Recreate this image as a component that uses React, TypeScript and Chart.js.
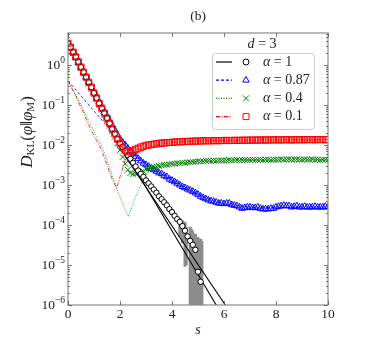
import React, { useEffect, useRef } from "react";
import { Chart, registerables } from "chart.js";

Chart.register(...registerables);

// ---------- data ----------
const S = [
  0, 0.1, 0.2, 0.3, 0.4, 0.5, 0.6, 0.7, 0.8, 0.9,
  1, 1.1, 1.2, 1.3, 1.4, 1.5, 1.6, 1.7, 1.8, 1.9,
  2, 2.1, 2.2, 2.3, 2.4, 2.5, 2.6, 2.7, 2.8, 2.9,
  3, 3.1, 3.2, 3.3, 3.4, 3.5, 3.6, 3.7, 3.8, 3.9,
  4, 4.1, 4.2, 4.3, 4.4, 4.5, 4.6, 4.7, 4.8, 4.9,
  5, 5.1, 5.2, 5.3, 5.4, 5.5, 5.6, 5.7, 5.8, 5.9,
  6, 6.1, 6.2, 6.3, 6.4, 6.5, 6.6, 6.7, 6.8, 6.9,
  7, 7.1, 7.2, 7.3, 7.4, 7.5, 7.6, 7.7, 7.8, 7.9,
  8, 8.1, 8.2, 8.3, 8.4, 8.5, 8.6, 8.7, 8.8, 8.9,
  9, 9.1, 9.2, 9.3, 9.4, 9.5, 9.6, 9.7, 9.8, 9.9,
  10,
];

// alpha = 0.1 (red squares)
const RED_SQ = [
  3.5, 2.8, 2.1, 1.6, 1.2, 0.89, 0.66, 0.5, 0.37, 0.28,
  0.2, 0.15, 0.11, 0.083, 0.063, 0.047, 0.035, 0.025, 0.019, 0.014,
  0.011, 0.0085, 0.0072, 0.0068, 0.0068, 0.0072, 0.0078, 0.0083, 0.0089, 0.0093,
  0.0098, 0.01, 0.0102, 0.0105, 0.0107, 0.011, 0.0112, 0.0112, 0.0115, 0.0115,
  0.0117, 0.0118, 0.012, 0.012, 0.012, 0.0123, 0.0122, 0.0124, 0.0125, 0.0125,
  0.0126, 0.0126, 0.0127, 0.0127, 0.0128, 0.0127, 0.0128, 0.0129, 0.0128, 0.0129,
  0.013, 0.013, 0.0129, 0.013, 0.0131, 0.013, 0.0131, 0.0132, 0.0131, 0.0132,
  0.0132, 0.0133, 0.0132, 0.0133, 0.0134, 0.0133, 0.0134, 0.0133, 0.0134, 0.0135,
  0.0134, 0.0135, 0.0134, 0.0135, 0.0136, 0.0135, 0.0134, 0.0135, 0.0136, 0.0135,
  0.0136, 0.0135, 0.0136, 0.0137, 0.0136, 0.0135, 0.0136, 0.0137, 0.0136, 0.0135,
  0.0136,
];

// alpha = 0.87 (blue triangles)
const BLUE_TRI = [
  3.4, 2.7, 2.0, 1.55, 1.15, 0.87, 0.65, 0.49, 0.37, 0.28,
  0.21, 0.16, 0.12, 0.09, 0.068, 0.052, 0.04, 0.031, 0.024, 0.018,
  0.014, 0.0117, 0.01, 0.0083, 0.0071, 0.006, 0.0052, 0.0046, 0.004, 0.0035,
  0.0032, 0.0029, 0.0026, 0.0024, 0.0022, 0.002, 0.0019, 0.0017, 0.0016, 0.0014,
  0.0013, 0.0012, 0.0011, 0.001, 0.00091, 0.00085, 0.00079, 0.00074, 0.00069, 0.00063,
  0.00058, 0.00052, 0.00048, 0.00045, 0.00042, 0.0004, 0.00039, 0.00037, 0.00035, 0.00035,
  0.00034, 0.00035, 0.00035, 0.00032, 0.00031, 0.0003, 0.00028, 0.00026, 0.00027, 0.00028,
  0.00028, 0.00027, 0.00027, 0.00028, 0.00026, 0.00025, 0.00025, 0.00025, 0.00026, 0.00026,
  0.00028, 0.00029, 0.0003, 0.00031, 0.0003, 0.0003, 0.00028, 0.00029, 0.0003, 0.00028,
  0.00028, 0.00029, 0.00028, 0.00028, 0.00028, 0.00029, 0.00028, 0.00028, 0.00028, 0.00029,
  0.00028,
];

// alpha = 0.4 (green crosses)
const GREEN_X = [
  3.4, 2.7, 2.0, 1.5, 1.1, 0.83, 0.62, 0.46, 0.34, 0.25,
  0.19, 0.14, 0.1, 0.076, 0.056, 0.041, 0.03, 0.022, 0.016, 0.011,
  0.0075, 0.005, 0.0034, 0.0024, 0.002, 0.0019, 0.0019, 0.002, 0.0021, 0.0022,
  0.0025, 0.0026, 0.0027, 0.0028, 0.0029, 0.003, 0.0031, 0.0032, 0.0032, 0.0033,
  0.0034, 0.0034, 0.0035, 0.0035, 0.0036, 0.0036, 0.0037, 0.0037, 0.0038, 0.0038,
  0.0039, 0.0039, 0.0039, 0.004, 0.004, 0.004, 0.0041, 0.004, 0.0041, 0.0041,
  0.0041, 0.0041, 0.0042, 0.0041, 0.0042, 0.0042, 0.0041, 0.0042, 0.0042, 0.0042,
  0.0042, 0.0043, 0.0042, 0.0042, 0.0043, 0.0042, 0.0043, 0.0043, 0.0042, 0.0043,
  0.0043, 0.0043, 0.0044, 0.0043, 0.0044, 0.0044, 0.0043, 0.0044, 0.0044, 0.0043,
  0.0043, 0.0044, 0.0043, 0.0043, 0.0044, 0.0043, 0.0043, 0.0042, 0.0043, 0.0043,
  0.0042,
];

// alpha = 1 (black circles), s = 0 .. 5.1
const BLACK_CIRC = [
  3.5, 2.8, 2.1, 1.6, 1.2, 0.89, 0.66, 0.5, 0.37, 0.28,
  0.2, 0.15, 0.11, 0.083, 0.063, 0.047, 0.035, 0.025, 0.019, 0.014,
  0.011, 0.0089, 0.0071, 0.0056, 0.0045, 0.0036, 0.0029, 0.0023, 0.0019, 0.0016,
  0.0013, 0.0011, 0.00092, 0.00077, 0.00064, 0.00052, 0.00044, 0.00037, 0.00031, 0.00025,
  0.00021, 0.00017, 0.00014, 0.00012, 0.000094, 0.000072, 0.000052, 0.00004, 0.000032, 0.000024,
  0.0000068, 0.0000038,
];

// error bars of alpha = 1 simulation
const ERR_S = [4.3, 4.4, 4.5, 4.55, 4.7, 4.75, 4.8, 4.9, 5.0, 5.1, 5.15];
const ERR_HI = [1.5e-4, 1.3e-4, 1.2e-4, 9e-5, 9e-5, 8e-5, 7e-5, 6e-5, 5e-5, 4.5e-5, 4e-5];
const ERR_LO = [5e-5, 3.5e-5, 9e-6, 1e-5, 1e-7, 1e-7, 1e-7, 1e-7, 1e-7, 1e-7, 1e-7];

// theory lines
const LINE_B_S = [0, 0.5, 1.0, 1.5, 2.0, 2.5, 3.0, 3.5, 4.0, 5.0, 6.0, 7.0, 8.0, 9.0, 10];
const LINE_B_Y = [0.4, 0.17, 0.071, 0.03, 0.013, 0.006, 0.0032, 0.0021, 0.0013, 0.00058, 0.00034, 0.00028, 0.00027, 0.00028, 0.00028];

const LINE_G_S = [0, 0.3, 0.6, 0.97, 1.36, 1.62, 1.8, 2.0, 2.2, 2.32, 2.45, 2.6, 2.77, 2.9, 3.1, 3.3, 3.6, 4, 5, 6, 7, 8, 9, 10];
const LINE_G_Y = [0.4, 0.18, 0.074, 0.024, 0.0076, 0.0025, 0.0011, 0.0005, 0.00024, 0.00016, 0.00028, 0.0005, 0.00091, 0.0014, 0.0021, 0.0026, 0.003, 0.0034, 0.0039, 0.0041, 0.0042, 0.0043, 0.0043, 0.0043];

const LINE_R_S = [0, 0.3, 0.6, 0.88, 1.1, 1.29, 1.5, 1.7, 1.87, 2.0, 2.15, 2.26, 2.5, 2.7, 3.0, 3.3, 3.6, 4, 5, 6, 7, 8, 9, 10];
const LINE_R_Y = [0.4, 0.166, 0.063, 0.024, 0.013, 0.0076, 0.0032, 0.0014, 0.00083, 0.0016, 0.0033, 0.0056, 0.006, 0.0063, 0.0079, 0.0095, 0.0107, 0.0117, 0.0126, 0.013, 0.0132, 0.0134, 0.0135, 0.0136];

// alpha = 1 reference lines
const LINE_K_S = [2.15, 6.05];
const LINE_K_Y = [0.0058, 1e-6];
const LINE_K2_S = [2.2, 5.7];
const LINE_K2_Y = [0.0066, 1e-6];

const X_TICKS = [0, 2, 4, 6, 8, 10];
const Y_DECADES = [0, -1, -2, -3, -4, -5, -6];
const LEGEND_LABELS = ["1", "0.87", "0.4", "0.1"];
const LEGEND_TITLE_VALUE = "3";
const PANEL_TITLE = "(b)";

// ---------- helpers ----------
const SERIF = '"Liberation Serif", "DejaVu Serif", serif';
const RED = "#ff0000";
const BLUE = "#0000ff";
const GREEN = "#008000";
const FRAME = "#8a8a8a";
const CLEAR = "rgba(255,255,255,0)";

const pts = (xs: number[], ys: number[]) => ys.map((y, i) => ({ x: xs[i], y }));

type Part = { t: string; size: number; italic?: boolean; dy?: number };
const fontOf = (p: Part) => `${p.italic ? "italic " : ""}${p.size}px ${SERIF}`;
function richWidth(ctx: CanvasRenderingContext2D, parts: Part[]) {
  let w = 0;
  for (const p of parts) {
    ctx.font = fontOf(p);
    w += ctx.measureText(p.t).width;
  }
  return w;
}
function drawRich(ctx: CanvasRenderingContext2D, parts: Part[], x: number, y: number, align: "left" | "center" | "right") {
  const w = richWidth(ctx, parts);
  let cx = align === "left" ? x : align === "center" ? x - w / 2 : x - w;
  ctx.textAlign = "left";
  ctx.textBaseline = "middle";
  for (const p of parts) {
    ctx.font = fontOf(p);
    ctx.fillText(p.t, cx, y + (p.dy || 0));
    cx += ctx.measureText(p.t).width;
  }
}

function drawMarker(ctx: CanvasRenderingContext2D, kind: string, x: number, y: number, color: string) {
  ctx.save();
  ctx.strokeStyle = color;
  ctx.fillStyle = "#fff";
  ctx.lineWidth = 1;
  ctx.beginPath();
  if (kind === "circle") {
    ctx.arc(x, y, 3, 0, Math.PI * 2);
    ctx.fill();
    ctx.stroke();
  } else if (kind === "triangle") {
    const r = 3.8;
    ctx.moveTo(x, y - r);
    ctx.lineTo(x + r * 0.866, y + r * 0.5);
    ctx.lineTo(x - r * 0.866, y + r * 0.5);
    ctx.closePath();
    ctx.fill();
    ctx.stroke();
  } else if (kind === "cross") {
    const h = 3;
    ctx.moveTo(x - h, y - h);
    ctx.lineTo(x + h, y + h);
    ctx.moveTo(x + h, y - h);
    ctx.lineTo(x - h, y + h);
    ctx.stroke();
  } else {
    const h = 3;
    ctx.rect(x - h, y - h, 2 * h, 2 * h);
    ctx.fill();
    ctx.stroke();
  }
  ctx.restore();
}

const decorPlugin = {
  id: "decor",
  afterDatasetsDraw(chart: any) {
    const ctx: CanvasRenderingContext2D = chart.ctx;
    const { left, right, top, bottom } = chart.chartArea;
    const xs = chart.scales.x;
    const ys = chart.scales.y;
    ctx.save();

    // frame
    ctx.strokeStyle = FRAME;
    ctx.lineWidth = 1.2;
    ctx.strokeRect(left, top, right - left, bottom - top);

    // x ticks (inward, bottom + top)
    ctx.strokeStyle = "#555";
    ctx.lineWidth = 0.8;
    ctx.beginPath();
    for (const v of X_TICKS) {
      const px = Math.round(xs.getPixelForValue(v)) + 0.5;
      ctx.moveTo(px, bottom);
      ctx.lineTo(px, bottom - 4);
      ctx.moveTo(px, top);
      ctx.lineTo(px, top + 4);
    }
    // y ticks major + minor (left + right)
    for (const e of Y_DECADES) {
      for (let m = 1; m <= 9; m++) {
        const v = m * Math.pow(10, e);
        if (v > ys.max) continue;
        const py = Math.round(ys.getPixelForValue(v)) + 0.5;
        const len = m === 1 ? 4 : 2;
        ctx.moveTo(left, py);
        ctx.lineTo(left + len, py);
        ctx.moveTo(right, py);
        ctx.lineTo(right - len, py);
      }
    }
    ctx.stroke();

    ctx.fillStyle = "#222";
    // x tick labels
    for (const v of X_TICKS) {
      drawRich(ctx, [{ t: String(v), size: 13.5 }], xs.getPixelForValue(v), bottom + 9, "center");
    }
    // y tick labels
    for (const e of Y_DECADES) {
      const exp = e === 0 ? "0" : "\u2212" + String(-e);
      drawRich(
        ctx,
        [
          { t: "10", size: 13.5 },
          { t: exp, size: 9.5, dy: -5 },
        ],
        left - 3,
        ys.getPixelForValue(Math.pow(10, e)),
        "right"
      );
    }
    // x axis title
    drawRich(ctx, [{ t: "s", size: 14, italic: true }], (left + right) / 2, bottom + 25, "center");
    // y axis title
    ctx.save();
    ctx.translate(28, 132);
    ctx.rotate(-Math.PI / 2);
    drawRich(
      ctx,
      [
        { t: "D", size: 17, italic: true },
        { t: "KL", size: 11, dy: 3.5 },
        { t: "(", size: 17 },
        { t: "\u03c6", size: 17, italic: true },
        { t: "\u2016", size: 17 },
        { t: "\u03c6", size: 17, italic: true },
        { t: "M", size: 11, dy: 3.5 },
        { t: ")", size: 17 },
      ],
      0,
      0,
      "center"
    );
    ctx.restore();
    // panel title
    drawRich(ctx, [{ t: PANEL_TITLE, size: 13.5 }], (left + right) / 2, 16, "center");

    // legend
    const bx = 212, by = 53, bw = 102, bh = 76;
    ctx.save();
    ctx.fillStyle = "rgba(255,255,255,0.85)";
    ctx.strokeStyle = "#cccccc";
    ctx.lineWidth = 1;
    ctx.beginPath();
    (ctx as any).roundRect(bx + 0.5, by + 0.5, bw, bh, 3);
    ctx.fill();
    ctx.stroke();
    ctx.restore();
    ctx.fillStyle = "#222";
    drawRich(
      ctx,
      [
        { t: "d", size: 14, italic: true },
        { t: " = " + LEGEND_TITLE_VALUE, size: 14 },
      ],
      262,
      44,
      "center"
    );
    const rows = [
      { color: "#000", dash: [] as number[], marker: "circle" },
      { color: BLUE, dash: [3, 2], marker: "triangle" },
      { color: GREEN, dash: [1, 1.5], marker: "cross" },
      { color: RED, dash: [4, 1.5, 1, 1.5], marker: "square" },
    ];
    rows.forEach((r, i) => {
      const ry = 62 + i * 18.2;
      ctx.save();
      ctx.strokeStyle = r.color;
      ctx.lineWidth = 1.2;
      ctx.setLineDash(r.dash);
      ctx.beginPath();
      ctx.moveTo(216, ry);
      ctx.lineTo(232, ry);
      ctx.stroke();
      ctx.restore();
      drawMarker(ctx, r.marker, 246, ry, r.color);
      ctx.fillStyle = "#222";
      drawRich(
        ctx,
        [
          { t: "\u03b1", size: 14, italic: true },
          { t: " = " + LEGEND_LABELS[i], size: 14 },
        ],
        263,
        ry,
        "left"
      );
    });
    ctx.restore();
  },
};

export default function App() {
  const ref = useRef<HTMLCanvasElement | null>(null);
  useEffect(() => {
    if (!ref.current) return;
    const thin = (data: any, color: string, dash: number[], order: number) => ({
      data,
      showLine: true,
      borderColor: color,
      borderWidth: 0.8,
      borderDash: dash,
      pointRadius: 0,
      fill: false,
      order,
    });
    const errData: any[] = [];
    ERR_S.forEach((s, i) => {
      errData.push({ x: s, y: ERR_HI[i] });
      errData.push({ x: s, y: ERR_LO[i] });
      errData.push({ x: s, y: null });
    });
    const markers = (data: any, color: string, style: string, radius: number, order: number, fillColor: string) => ({
      data,
      showLine: false,
      borderColor: color,
      backgroundColor: fillColor,
      pointStyle: style,
      pointRadius: radius,
      pointBorderWidth: 1,
      pointBorderColor: color,
      pointBackgroundColor: fillColor,
      order,
    });
    const blackLine = (data: any) => ({
      data,
      showLine: true,
      borderColor: "#000",
      borderWidth: 1.1,
      pointRadius: 0,
      order: 3,
    });
    const chart = new Chart(ref.current, {
      type: "line",
      data: {
        datasets: [
          thin(pts(LINE_B_S, LINE_B_Y), BLUE, [3, 2], 8),
          thin(pts(LINE_G_S, LINE_G_Y), GREEN, [1, 1.5], 8),
          thin(pts(LINE_R_S, LINE_R_Y), RED, [4, 1.5, 1, 1.5], 8),
          {
            data: errData,
            showLine: true,
            spanGaps: false,
            borderColor: "rgba(120,120,120,0.85)",
            borderWidth: 3,
            pointRadius: 0,
            order: 6,
          },
          markers(pts(S, BLUE_TRI), BLUE, "triangle", 3.8, 5, CLEAR),
          markers(pts(S, GREEN_X), GREEN, "crossRot", 4, 4, CLEAR),
          blackLine(pts(LINE_K_S, LINE_K_Y)),
          blackLine(pts(LINE_K2_S, LINE_K2_Y)),
          markers(pts(S, BLACK_CIRC), "#000", "circle", 2.7, 2, "#ffffff"),
          markers(pts(S, RED_SQ), RED, "rect", 4.3, 1, CLEAR),
        ],
      },
      options: {
        animation: false,
        responsive: false,
        devicePixelRatio: 1,
        layout: { padding: { left: 68, right: 46, top: 33, bottom: 35 } },
        plugins: { legend: { display: false }, tooltip: { enabled: false }, title: { display: false } },
        elements: { line: { tension: 0 } },
        scales: {
          x: { type: "linear", min: 0, max: 10, display: false },
          y: { type: "logarithmic", min: 1e-6, max: 6.31, display: false },
        },
      },
      plugins: [decorPlugin],
    } as any);
    return () => chart.destroy();
  }, []);
  return (
    <div style={{ position: "absolute", left: 0, top: 0, width: 374, height: 340, background: "#fff" }}>
      <canvas ref={ref} width={374} height={340} style={{ display: "block" }} />
    </div>
  );
}
